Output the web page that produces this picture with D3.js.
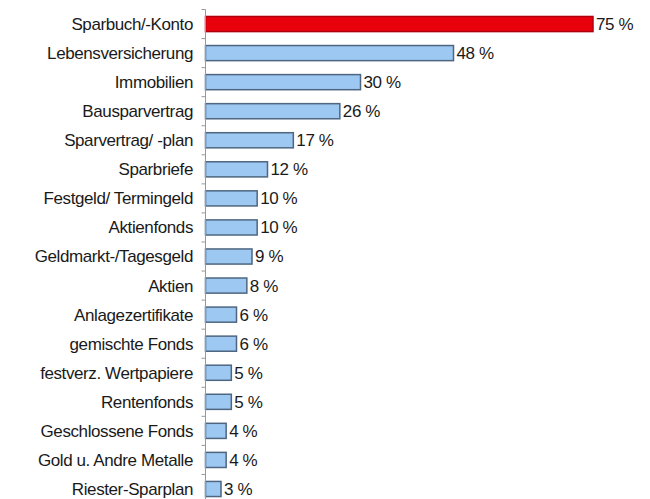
<!DOCTYPE html>
<head>
  <meta charset="utf-8">
  <script src="https://d3js.org/d3.v7.min.js"></script>
  <style>
    body { margin:0; background:#fff; }
    text { font-family: "Liberation Sans", Arial, sans-serif; fill:#1a1a1a; }
  </style>
</head>
<body>
<script>
  var width = 650, height = 499;

  // categories, top to bottom
  var categories = [
    "Sparbuch/-Konto", "Lebensversicherung", "Immobilien", "Bausparvertrag",
    "Sparvertrag/ -plan", "Sparbriefe", "Festgeld/ Termingeld", "Aktienfonds",
    "Geldmarkt-/Tagesgeld", "Aktien", "Anlagezertifikate", "gemischte Fonds",
    "festverz. Wertpapiere", "Rentenfonds", "Geschlossene Fonds",
    "Gold u. Andre Metalle", "Riester-Sparplan"
  ];
  var values = [75, 48, 30, 26, 17, 12, 10, 10, 9, 8, 6, 6, 5, 5, 4, 4, 3];

  var svg = d3.select("body").append("svg")
    .attr("width", width)
    .attr("height", height);

  var x = d3.scaleLinear()
    .domain([0, 75])
    .range([205.5, 593]);

  var y = d3.scaleBand()
    .domain(categories)
    .range([9.5, 9.5 + 17 * 29.06])
    .paddingInner(0.48)
    .paddingOuter(0.24);

  // bars
  svg.selectAll("rect.bar")
    .data(categories)
    .enter().append("rect")
    .attr("class", "bar")
    .attr("x", x(0))
    .attr("y", function(d) { return y(d); })
    .attr("width", function(d, i) { return x(values[i]) - x(0); })
    .attr("height", y.bandwidth())
    .attr("fill", function(d, i) { return i == 0 ? "#e8000b" : "#9cc8f2"; })
    .attr("stroke", function(d, i) { return i == 0 ? "#b00010" : "#4e6680"; })
    .attr("stroke-width", 1.5);

  // value labels
  svg.selectAll("text.val")
    .data(categories)
    .enter().append("text")
    .attr("class", "val")
    .attr("x", function(d, i) { return x(values[i]) + 3; })
    .attr("y", function(d) { return y(d) + y.bandwidth() / 2; })
    .attr("dy", "0.35em")
    .attr("font-size", 17)
    .attr("letter-spacing", -0.4)
    .text(function(d, i) { return values[i] + " %"; });

  // category axis
  var axis = svg.append("g")
    .attr("transform", "translate(" + x(0) + ",0)");
  axis.append("line")
    .attr("y1", y.range()[0])
    .attr("y2", height)
    .attr("stroke", "#999");
  axis.selectAll("line.tick")
    .data(d3.range(categories.length + 1))
    .enter().append("line")
    .attr("class", "tick")
    .attr("x1", -4).attr("x2", 0)
    .attr("y1", function(i) { return y.range()[0] + i * y.step(); })
    .attr("y2", function(i) { return y.range()[0] + i * y.step(); })
    .attr("stroke", "#999");

  svg.selectAll("text.cat")
    .data(categories)
    .enter().append("text")
    .attr("class", "cat")
    .attr("x", 193)
    .attr("y", function(d) { return y(d) + y.bandwidth() / 2; })
    .attr("dy", "0.35em")
    .attr("text-anchor", "end")
    .attr("font-size", 17)
    .attr("letter-spacing", -0.4)
    .text(function(d) { return d; });
</script>
</body>
